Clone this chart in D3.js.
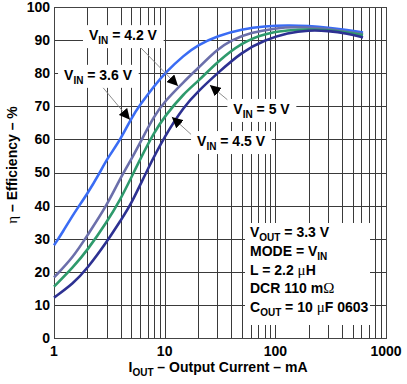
<!DOCTYPE html>
<meta charset="utf-8">
<style>
body { margin: 0; background: #fff; overflow: hidden; position: relative; }
svg { display: block; }
text { font-family: Arial, "Liberation Sans", sans-serif; font-weight: bold; fill: #000; }
.grid line { stroke: #3a3a3a; stroke-width: 1px; shape-rendering: crispEdges; }
.grid .domain { display: none; }
.curve { fill: none; stroke-width: 2.6px; }
.arrow { stroke: #808080; stroke-width: 0.9px; }
.sym { font-family: "Liberation Serif", "DejaVu Serif", serif; font-weight: normal; }
.hlab { position: absolute; width: 40px; text-align: center; font: bold 14px/16px Arial, "Liberation Sans", sans-serif; color: #000; }
</style>
<body>
<script src="https://cdn.jsdelivr.net/npm/d3@7"></script>
<script>

// efficiency curves, [current mA, efficiency %]
var vin36 = [[1,28],[1.2,32],[1.5,37.5],[2,43.5],[2.6,50],[3,54],[4,60],[5,66.5],[6,70.5],[8,76],[10,80],[15,85.5],[20,88.5],[30,91.3],[50,93.3],[80,94.2],[130,94.5],[200,94.3],[300,93.8],[450,93],[620,92.3]];
var vin42 = [[1,18.3],[1.5,24.5],[2,31],[3,40],[4,48.5],[5,54],[6,59],[8,67],[10,71.5],[15,77.5],[20,81.5],[30,87.3],[40,90],[60,92.3],[100,93.6],[150,94],[250,93.6],[400,92.8],[620,91.8]];
var vin45 = [[1,15.5],[1.5,21.5],[2,26.5],[3,35],[4,42],[5,48.5],[6,54],[8,62],[10,67],[15,74],[20,77.5],[30,83.5],[50,89.3],[80,92],[130,93],[200,93.3],[300,93],[450,92.3],[620,91.5]];
var vin50 = [[1,12.2],[1.5,16.5],[2,21],[3,29],[4,35.5],[5,40.5],[7,51],[10,61],[15,70],[20,74.5],[30,80],[50,86.5],[80,90],[130,92.2],[200,93],[300,92.8],[450,92],[620,90.8]];

var series = [
  {name: "3.6", data: vin36, color: "#3a6cf4"},
  {name: "4.2", data: vin42, color: "#6b6fab"},
  {name: "4.5", data: vin45, color: "#2e9a6c"},
  {name: "5", data: vin50, color: "#2d3192"}
];

// label centre, arrow start, arrow tip (data coords)
var labels = [
  {name: "4.2", at: [4.2, 91.2], from: [6.0, 87.9], to: [13.2, 76.1]},
  {name: "3.6", at: [2.5, 79.2], from: [2.7, 76.1], to: [4.86, 65.9]},
  {name: "5", at: [75, 68.9], from: [40, 71], to: [25.6, 76.4]},
  {name: "4.5", at: [39.8, 59.2], from: [17.6, 61.3], to: [11.6, 66.8]}
];

var xTicks = [1, 10, 100, 1000];
var xTickLabels = ["1", "10", "100", "1000"];
var yTicks = [0, 10, 20, 30, 40, 50, 60, 70, 80, 90, 100];

var margin = {top: 7, right: 21, bottom: 46, left: 54},
    width = 407 - margin.left - margin.right,
    height = 384 - margin.top - margin.bottom;

var x = d3.scaleLog().domain([1, 1000]).range([0, width]);
var y = d3.scaleLinear().domain([0, 100]).range([height, 0]);

var minor = [];
[1, 10, 100].forEach(function(d) {
  for (var i = 1; i < 10; i++) minor.push(d * i);
});
minor.push(1000);

var svg = d3.select("body").append("svg")
    .attr("width", 407)
    .attr("height", 384);

var g = svg.append("g")
    .attr("transform", "translate(" + margin.left + "," + margin.top + ")");

// grid
g.append("g")
    .attr("class", "grid")
    .attr("transform", "translate(0," + height + ")")
    .call(d3.axisBottom(x).tickValues(minor).tickSize(-height).tickFormat(""));
g.append("g")
    .attr("class", "grid")
    .call(d3.axisLeft(y).tickValues(yTicks).tickSize(-width).tickFormat(""));

g.append("rect")
    .attr("width", width).attr("height", height)
    .attr("fill", "none").attr("stroke", "#444").attr("shape-rendering", "crispEdges");

// curves
var line = d3.line()
    .x(function(d) { return x(d[0]); })
    .y(function(d) { return y(d[1]); })
    .curve(d3.curveBasis);

g.selectAll(".curve")
    .data(series)
  .enter().append("path")
    .attr("class", "curve")
    .attr("stroke", function(d) { return d.color; })
    .attr("d", function(d) { return line(d.data); });

var ya = g.append("g")
    .call(d3.axisLeft(y).tickValues(yTicks).tickSize(0).tickPadding(4));
ya.select(".domain").remove();
ya.selectAll("text").style("font-size", "14px");

// x tick labels as html, over the svg
d3.select("body").selectAll(".hlab")
    .data(xTicks)
  .enter().append("div")
    .attr("class", "hlab")
    .style("left", function(d) { return (margin.left + x(d) - 20) + "px"; })
    .style("top", (margin.top + height + 5) + "px")
    .text(function(d, i) { return xTickLabels[i]; });

// arrows
svg.append("defs").append("marker")
    .attr("id", "head")
    .attr("viewBox", "0 0 10 10")
    .attr("refX", 10).attr("refY", 5)
    .attr("markerWidth", 11).attr("markerHeight", 11)
    .attr("markerUnits", "userSpaceOnUse")
    .attr("orient", "auto")
  .append("path")
    .attr("d", "M0,0L10,5L0,10z")
    .attr("fill", "#000");

labels.forEach(function(l) {
  g.append("line")
      .attr("class", "arrow")
      .attr("x1", x(l.from[0])).attr("y1", y(l.from[1]))
      .attr("x2", x(l.to[0])).attr("y2", y(l.to[1]))
      .attr("marker-end", "url(#head)");

  var lg = g.append("g");
  var bg = lg.append("rect").attr("fill", "#fff");
  var t = lg.append("text")
      .attr("x", x(l.at[0]))
      .attr("y", y(l.at[1]) + 4)
      .attr("text-anchor", "middle")
      .style("font-size", "14px");
  t.append("tspan").text("V");
  t.append("tspan").attr("dy", 4).style("font-size", "10px").text("IN");
  t.append("tspan").attr("dy", -4).text(" = " + l.name + " V");
  var b = t.node().getBBox();
  bg.attr("x", b.x - 6).attr("y", b.y - 2).attr("width", b.width + 12).attr("height", b.height + 4);
});

// conditions box
var cond = g.append("g").attr("transform", "translate(" + (width - 141) + "," + (216) + ")");
cond.append("rect")
    .attr("x", 0).attr("y", 0).attr("width", 125).attr("height", 102)
    .attr("fill", "#fff");

var condLines = [
  [["V", 0], ["OUT", 1], [" = 3.3 V", 0]],
  [["MODE = V", 0], ["IN", 1]],
  [["L = 2.2 ", 0], ["\u03bc", 2], ["H", 0]],
  [["DCR 110 m", 0], ["\u03a9", 2]],
  [["C", 0], ["OUT", 1], [" = 10 ", 0], ["\u03bc", 2], ["F 0603", 0]]
];

condLines.forEach(function(parts, i) {
  var t = cond.append("text")
      .attr("x", 5)
      .attr("y", 14 + i * 18.8)
      .style("font-size", "14px");
  var sub = false;
  parts.forEach(function(p) {
    var s = t.append("tspan").text(p[0]);
    if (p[1] === 1) {
      s.attr("dy", 4).style("font-size", "10px");
      sub = true;
    } else {
      if (sub) { s.attr("dy", -4); sub = false; }
      if (p[1] === 2) s.attr("class", "sym").style("font-size", "15px");
    }
  });
});

// axis titles
var xt = svg.append("text")
    .attr("x", 218)
    .attr("y", 372)
    .attr("text-anchor", "middle")
    .style("font-size", "14px");
xt.append("tspan").text("I");
xt.append("tspan").attr("dy", 4).style("font-size", "10px").text("OUT");
xt.append("tspan").attr("dy", -4).text(" \u2013 Output Current \u2013 mA");

var yt = svg.append("text")
    .attr("transform", "translate(17,165) rotate(-90)")
    .attr("text-anchor", "middle")
    .style("font-size", "14px");
yt.append("tspan").attr("class", "sym").style("font-size", "15px").text("\u03b7");
yt.append("tspan").text(" \u2013 Efficiency \u2013 %");

</script>
</body>
